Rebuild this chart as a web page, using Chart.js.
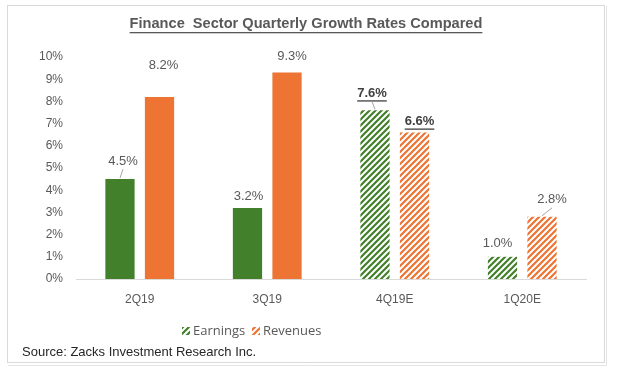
<!DOCTYPE html>
<html><head><meta charset="utf-8">
<script src="https://cdn.jsdelivr.net/npm/chart.js@4/dist/chart.umd.min.js"></script>
<style>html,body{margin:0;padding:0;background:#fff;}#wrap{width:620px;height:384px;position:relative;}</style>
</head><body><div id="wrap"><canvas id="c" width="620" height="384"></canvas></div>
<script>
// ---- data ----
const chartTitle = 'Finance  Sector Quarterly Growth Rates Compared';
const sourceText = 'Source: Zacks Investment Research Inc.';
const categories = ['2Q19', '3Q19', '4Q19E', '1Q20E'];
const seriesNames = ['Earnings', 'Revenues'];
const earnings = [4.5, 3.2, 7.6, 1.0];
const revenues = [8.2, 9.3, 6.6, 2.8];
const estimated = [false, false, true, true];
const yTickValues = [0, 1, 2, 3, 4, 5, 6, 7, 8, 9, 10];

// ---- styles ----
const GREEN = '#43802b', ORANGE = '#ed7432', TXT = '#595959';
function hatch(color) {
  const c = document.createElement('canvas'); c.width = 6; c.height = 6;
  const g = c.getContext('2d');
  g.fillStyle = '#fff'; g.fillRect(0, 0, 6, 6);
  g.strokeStyle = color; g.lineWidth = 2.2; g.lineCap = 'square';
  g.beginPath();
  g.moveTo(-1, 7); g.lineTo(7, -1);
  g.moveTo(-4, 4); g.lineTo(4, -4);
  g.moveTo(2, 10); g.lineTo(10, 2);
  g.stroke();
  return document.getElementById('c').getContext('2d').createPattern(c, 'repeat');
}
const hatchG = hatch(GREEN), hatchO = hatch(ORANGE);
const colorsFor = (solid, pat) => estimated.map(e => e ? pat : solid);
// label offsets [dx, dy above bar top] per dataset/bar
const labelOffsets = [[[3, 18], [1, 12], [-3, 17], [-5, 13]], [[4, 32], [5, 16], [5, 11], [10, 17]]];
const leaders = [[true, false, true, false], [false, false, false, true]];

const decor = {
  id: 'decor',
  beforeDraw(chart) {
    const ctx = chart.ctx;
    ctx.save();
    ctx.fillStyle = '#fff'; ctx.fillRect(0, 0, 620, 384);
    ctx.strokeStyle = '#d9d9d9'; ctx.lineWidth = 1;
    ctx.strokeRect(7.5, 5.5, 597, 357);
    ctx.strokeStyle = '#e4e4e4';
    ctx.beginPath(); ctx.moveTo(606.5, 6); ctx.lineTo(606.5, 365.5); ctx.lineTo(8, 365.5); ctx.stroke();
    // title
    ctx.font = 'bold 14.6px "Liberation Sans", Arial, sans-serif';
    ctx.fillStyle = TXT; ctx.textAlign = 'center'; ctx.textBaseline = 'middle';
    const tw = ctx.measureText(chartTitle).width;
    ctx.fillText(chartTitle, 306, 24);
    ctx.fillRect(306 - tw / 2, 32, tw, 1.3);
    // legend
    ctx.font = '13px "Open Sans", "Liberation Sans", sans-serif';
    ctx.textAlign = 'left';
    const legendItems = [[hatchG, seriesNames[0], 182], [hatchO, seriesNames[1], 252]];
    legendItems.forEach(([p, t, x]) => {
      ctx.fillStyle = p; ctx.fillRect(x, 327, 8, 8);
      ctx.fillStyle = TXT; ctx.fillText(t, x + 11, 331);
    });
    // source
    ctx.font = '13px "Liberation Sans", Arial, sans-serif';
    ctx.fillStyle = '#262626';
    ctx.fillText(sourceText, 22, 352);
    ctx.restore();
  },
  afterDatasetsDraw(chart) {
    const ctx = chart.ctx;
    ctx.save();
    ctx.textAlign = 'center'; ctx.textBaseline = 'middle';
    chart.data.datasets.forEach((ds, di) => {
      chart.getDatasetMeta(di).data.forEach((bar, i) => {
        const v = ds.data[i];
        const txt = v.toFixed(1) + '%';
        const [dx, dy] = labelOffsets[di][i];
        const x = bar.x + dx, y = bar.y - dy;
        const bold = i === 2;
        ctx.font = (bold ? 'bold ' : '') + '13px "Liberation Sans", Arial, sans-serif';
        ctx.fillStyle = bold ? '#404040' : TXT;
        ctx.fillText(txt, x, y);
        if (bold) {
          const w = ctx.measureText(txt).width;
          ctx.fillRect(x - w / 2, y + 7, w, 1.3);
        }
        if (leaders[di][i]) {
          ctx.strokeStyle = '#a6a6a6'; ctx.lineWidth = 1;
          ctx.beginPath(); ctx.moveTo(x, y + 8); ctx.lineTo(bar.x, bar.y - 1); ctx.stroke();
        }
      });
    });
    ctx.restore();
  }
};

new Chart(document.getElementById('c'), {
  type: 'bar',
  data: {
    labels: categories,
    datasets: [
      { label: seriesNames[0], data: earnings, backgroundColor: colorsFor(GREEN, hatchG), borderWidth: 0 },
      { label: seriesNames[1], data: revenues, backgroundColor: colorsFor(ORANGE, hatchO), borderWidth: 0 }
    ]
  },
  options: {
    responsive: false, devicePixelRatio: 1, animation: false,
    categoryPercentage: 0.62, barPercentage: 0.74,
    layout: { padding: { left: 10, right: 34, top: 57, bottom: 75 } },
    plugins: { legend: { display: false }, title: { display: false }, tooltip: { enabled: false } },
    scales: {
      x: {
        grid: { display: false },
        border: { color: '#d9d9d9', width: 1 },
        ticks: { color: TXT, font: { size: 12, family: '"Liberation Sans", Arial, sans-serif' }, padding: 5 },
        afterFit(s) { s.height = 30; }
      },
      y: {
        min: 0, max: 10,
        grid: { display: false },
        border: { display: false },
        afterBuildTicks(s) { s.ticks = yTickValues.map(v => ({ value: v })); },
        ticks: { color: TXT, font: { size: 12, family: '"Liberation Sans", Arial, sans-serif' }, padding: 5, callback: v => v + '%' },
        afterFit(s) { s.width = 66; }
      }
    }
  },
  plugins: [decor]
});
</script></body></html>
